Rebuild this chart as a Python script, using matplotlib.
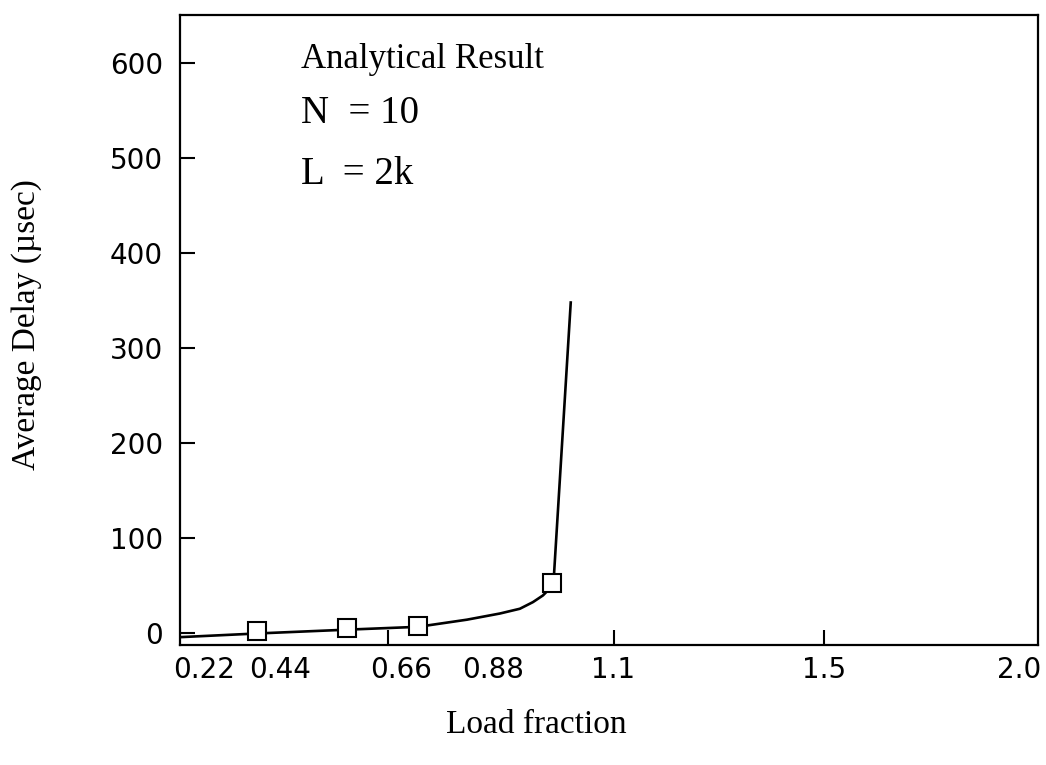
import matplotlib
matplotlib.use('Agg')
import matplotlib.pyplot as plt
import numpy as np

# data
curve_x = [0.268, 0.42, 0.591, 0.727, 0.82, 0.883, 0.921, 0.946, 0.965, 0.974, 0.982]
curve_y = [-4, 0, 4, 7, 14.5, 21, 26, 33, 40, 45, 52]
steep_x = [0.986, 1.018]
steep_y = [61, 348]
point_x = [0.42, 0.591, 0.727, 0.982]
point_y = [3, 6, 7.5, 53]

xtick_labels = ['0.22', '0.44', '0.66', '0.88', '1.1', '1.5', '2.0']
xtick_label_pos = [0.319, 0.464, 0.694, 0.870, 1.098, 1.5, 1.873]
xtick_marks = [0.67, 1.1, 1.5]
yticks = [0, 100, 200, 300, 400, 500, 600]

serif = 'Liberation Serif'
sans = 'DejaVu Sans'

fig = plt.figure(figsize=(10.46, 7.65), dpi=100)
ax = fig.add_axes([0.172, 0.157, 0.820, 0.823])

ax.plot(curve_x, curve_y, color='black', lw=1.9, solid_joinstyle='round')
ax.plot(steep_x, steep_y, color='black', lw=1.9)
ax.plot(point_x, point_y, ls='none', marker='s', ms=13, mfc='white',
        mec='black', mew=1.5)

ax.set_xlim(0.273, 1.908)
ax.set_ylim(-12, 650)

# tick marks and labels sit at different spots in the original
ax.xaxis.remove_overlapping_locs = False
ax.set_xticks(xtick_marks)
ax.set_xticklabels([])
ax.set_xticks(xtick_label_pos, minor=True)
ax.set_xticklabels(xtick_labels, minor=True, fontfamily=sans, fontsize=20)
ax.tick_params(axis='x', which='major', direction='in', length=11, width=1.5)
ax.tick_params(axis='x', which='minor', length=0, pad=8)

ax.set_yticks(yticks)
ax.set_yticklabels([str(v) for v in yticks], fontfamily=sans, fontsize=20)
ax.tick_params(axis='y', direction='in', length=11, width=1.5, pad=12)

for s in ax.spines.values():
    s.set_linewidth(1.6)

ax.set_xlabel('Load fraction', fontfamily=serif, fontsize=24)
ax.xaxis.set_label_coords(0.415, -0.103)
ax.set_ylabel('Average Delay (µsec)', fontfamily=serif, fontsize=24)
ax.yaxis.set_label_coords(-0.161, 0.508)

ax.text(0.141, 0.917, 'Analytical Result', transform=ax.transAxes,
        fontfamily=serif, fontsize=25, va='baseline')
ax.text(0.141, 0.829, 'N  = 10', transform=ax.transAxes,
        fontfamily=serif, fontsize=28, va='baseline')
ax.text(0.141, 0.732, 'L  = 2k', transform=ax.transAxes,
        fontfamily=serif, fontsize=28, va='baseline')

fig.savefig('out.png', dpi=100)
